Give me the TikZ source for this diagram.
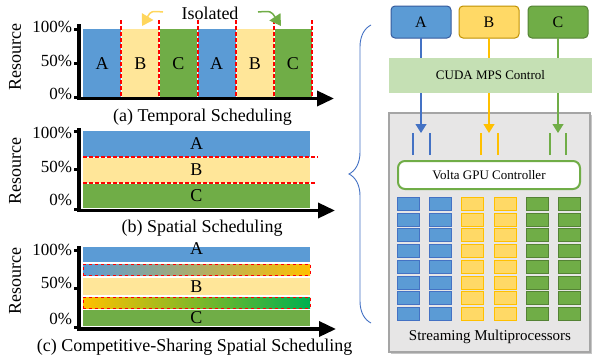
\documentclass[tikz,border=0pt]{standalone}
\usepackage{fontspec}
\setmainfont{Liberation Serif}
\usetikzlibrary{arrows.meta,positioning,shadows,decorations.pathreplacing}

\definecolor{ablue}{HTML}{5B9BD5}
\definecolor{adark}{HTML}{4472C4}
\definecolor{bpale}{HTML}{FFE699}
\definecolor{bbox}{HTML}{FFD966}
\definecolor{bdark}{HTML}{FFC000}
\definecolor{bedge}{HTML}{BF9000}
\definecolor{cgreen}{HTML}{70AD47}
\definecolor{cdark}{HTML}{548235}
\definecolor{mpsg}{HTML}{C5E0B4}
\definecolor{gpug}{HTML}{E7E6E6}
\definecolor{gpuedge}{HTML}{A5A5A5}
\definecolor{paleg}{HTML}{E2EFDA}
\definecolor{brgreen}{HTML}{00B050}

\tikzset{
	every node/.append style={inner sep=0pt, outer sep=0pt},
	big/.style={font=\fontsize{18}{18}\selectfont},
	pct/.style={font=\fontsize{17}{17}\selectfont, anchor=east},
	ylab/.style={font=\fontsize{18}{18}\selectfont, rotate=90},
	bar/.style={big, minimum width=227pt},
	strip/.style={minimum width=227pt, minimum height=11pt, draw=red, dashed, line width=0.8pt},
	yaxis/.style={line width=3.5pt},
	xaxis/.style={line width=3.5pt, -{Triangle[length=17pt,width=15pt]}},
	tick/.style={line width=3pt},
	reddash/.style={draw=red, line width=2pt, dash pattern=on 4pt off 2pt,
			preaction={draw=white, solid}},
	isoarrow/.style={line width=1.5pt, -{Triangle[length=11pt,width=13pt]}},
	job/.style={draw, rounded corners=4pt, line width=1pt, minimum width=60pt,
			minimum height=32pt, font=\fontsize{16}{16}\selectfont},
	flow/.style={line width=1.2pt},
	flowtip/.style={flow, -{Triangle[length=9pt,width=11pt]}},
	slot/.style={line width=2pt},
	smcell/.style={draw, line width=1pt, minimum width=22pt, minimum height=13pt},
}

\begin{document}
\begin{tikzpicture}[x=1pt,y=-1pt]
	\useasboundingbox (0,0) rectangle (592,360);

	% (a) temporal
	\foreach \l/\c [count=\i from 0] in {A/ablue,B/bpale,C/cgreen,A/ablue,B/bpale,C/cgreen}
		\node[big, fill=\c, minimum width=38.2pt, minimum height=69pt] at ({102.1+38.17*\i},63.5) (ta\i) {\l};
	\foreach \i in {0,...,5}
		\draw[reddash] ([yshift=9pt]ta\i.north east) -- ([yshift=-2pt]ta\i.south east);
	\draw[yaxis] (79,100) -- (79,24);
	\draw[xaxis] (77,98.5) -- (334,98.5);
	\foreach \y in {29,63,97} \draw[tick] (74,\y) -- (79,\y);
	\node[pct] at (72,27) (a100) {100\%};
	\node[pct] at (72,61) (a50) {50\%};
	\node[pct] at (72,94) (a0) {0\%};
	\node[ylab] at (15,57) (ares) {Resource};
	\node[big] at (210,13) (iso) {Isolated};
	\coordinate (ytail) at (163,12);
	\coordinate (ytip) at (142,26);
	\coordinate (gtail) at (258,12);
	\coordinate (gtip) at (281,26);
	\draw[isoarrow, bbox!90!bdark] (ytail) .. controls (151,11) .. (ytip);
	\draw[isoarrow, cgreen] (gtail) .. controls (271,11) .. (gtip);
	\node[big] at (202.5,117) (capa) {(a) Temporal Scheduling};

	% (b) spatial
	\node[bar, fill=ablue, minimum height=26pt] at (196.5,144) (sA) {A};
	\node[bar, fill=bpale, minimum height=26pt] at (196.5,170) (sB) {B};
	\node[bar, fill=cgreen, minimum height=25pt] at (196.5,195.5) (sC) {C};
	\draw[reddash] (sA.south west) -- ++(235,0);
	\draw[reddash] (sB.south west) -- ++(233,0);
	\draw[yaxis] (79,212) -- (79,128);
	\draw[xaxis] (77,210.5) -- (335,210.5);
	\foreach \y in {131,169,209} \draw[tick] (74,\y) -- (79,\y);
	\node[pct] at (72,133) (b100) {100\%};
	\node[pct] at (72,167) (b50) {50\%};
	\node[pct] at (72,200) (b0) {0\%};
	\node[ylab] at (15,171) (bres) {Resource};
	\node[big] at (202,228) (capb) {(b) Spatial Scheduling};

	% (c) competitive-sharing
	\node[minimum width=227pt, minimum height=15pt, fill=ablue] at (196.5,254.5) (cA) {};
	\node[strip, left color=ablue, middle color=paleg, right color=bdark] at (196.5,269.5) (g1) {};
	\node[minimum width=227pt, minimum height=17pt, fill=bpale] at (196.5,286.5) (cB) {};
	\node[strip, left color=bdark, middle color=paleg, right color=brgreen] at (196.5,302.5) (g2) {};
	\node[minimum width=227pt, minimum height=16pt, fill=cgreen] at (196.5,318) (cC) {};
	\node[big] at (196.5,249) (tA) {A};
	\node[big] at (196.5,287) (tB) {B};
	\node[big] at (196.5,318) (tC) {C};
	\draw[yaxis] (79,331) -- (79,246);
	\draw[xaxis] (77,329) -- (336,329);
	\foreach \y in {250,288,327} \draw[tick] (74,\y) -- (79,\y);
	\node[pct] at (72,250) (c100) {100\%};
	\node[pct] at (72,283) (c50) {50\%};
	\node[pct] at (72,319) (c0) {0\%};
	\node[ylab] at (15,281) (cres) {Resource};
	\node[big] at (194.5,347) (capc) {(c) Competitive-Sharing Spatial Scheduling};

	% brace
	\coordinate (brb) at (371,323);
	\coordinate (brt) at (371,25);
	\draw[adark, line width=0.9pt, decorate, decoration={brace, amplitude=22pt}] (brb) -- (brt);

	% MPS / GPU
	\node[draw=gpuedge, fill=gpug, line width=1.5pt, minimum width=201pt, minimum height=239pt,
		drop shadow={shadow xshift=2pt, shadow yshift=-2pt, opacity=0.45}] at (489.5,232.5) (gpu) {};
	\node[job, fill=ablue, draw=adark!80!black] at (421,22) (jA) {A};
	\node[job, fill=bbox, draw=bedge] at (489,22) (jB) {B};
	\node[job, fill=cgreen, draw=cdark] at (558,22) (jC) {C};
	\node[fill=mpsg, minimum width=203pt, minimum height=35pt, font=\fontsize{13}{13}\selectfont]
		at (490.5,75.5) (mps) {CUDA MPS Control};
	\node[draw=cgreen, fill=white, line width=2pt, rounded corners=7pt, minimum width=182pt,
		minimum height=28pt, font=\fontsize{13}{13}\selectfont] at (489,175) (ctl) {Volta GPU Controller};
	\foreach \j/\c/\dx in {A/adark/-8.5,B/bdark/-8.5,C/cgreen/-8} {
		\coordinate (tip\j) at ([yshift=-2pt]j\j.south |- gpu.north);
		\draw[flow, \c] (j\j.south) -- (j\j.south |- mps.north);
		\draw[flowtip, \c] (j\j.south |- mps.south) -- ([yshift=-18pt]tip\j);
		\draw[slot, \c] ([xshift=\dx pt, yshift=6pt]ctl.north -| j\j.south) -- ++(0,-22);
		\draw[slot, \c] ([xshift=-\dx pt, yshift=6pt]ctl.north -| j\j.south) -- ++(0,-22);
	}
	\foreach \f/\d [count=\i from 0] in {ablue/adark,ablue/adark,bbox/bdark,bbox/bdark,cgreen/cdark,cgreen/cdark}
		\foreach \r in {0,...,7}
			\node[smcell, fill=\f, draw=\d] at ({408.5+32.2*\i},{204+15.7*\r}) (sm\i\r) {};
	\node[font=\fontsize{15}{15}\selectfont] at (490,337) (smtxt) {Streaming Multiprocessors};
\end{tikzpicture}
\end{document}
